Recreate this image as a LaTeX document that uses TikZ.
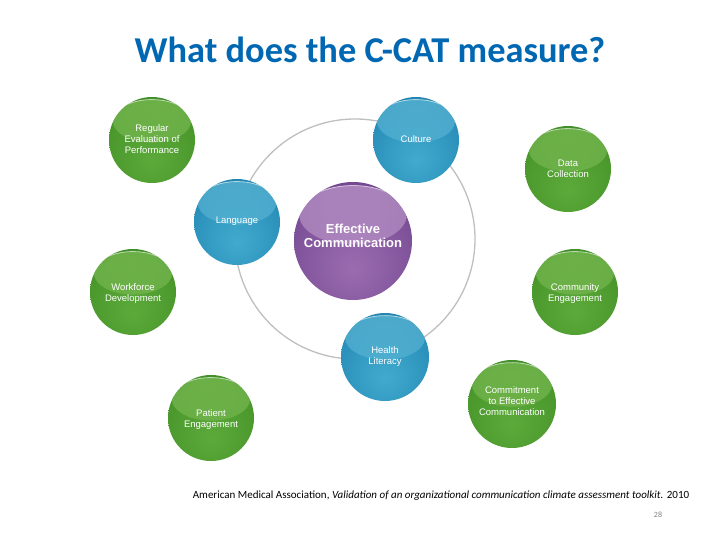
\documentclass[tikz,border=0pt]{standalone}
\usepackage{fontspec}
\usetikzlibrary{fadings}
\setmainfont{Carlito}
\newfontfamily\ballfont{Liberation Sans}
\definecolor{titleblue}{RGB}{0,104,178}
\definecolor{ringgray}{RGB}{190,192,192}
\definecolor{greena}{RGB}{92,170,58}
\definecolor{greenb}{RGB}{74,152,44}
\definecolor{greenc}{RGB}{44,122,32}
\definecolor{greend}{RGB}{22,84,30}
\definecolor{greenlight}{RGB}{128,190,88}
\definecolor{bluea}{RGB}{66,170,206}
\definecolor{blueb}{RGB}{42,144,186}
\definecolor{bluec}{RGB}{20,110,152}
\definecolor{blued}{RGB}{10,72,108}
\definecolor{bluelight}{RGB}{96,186,216}
\definecolor{purplea}{RGB}{156,108,176}
\definecolor{purpleb}{RGB}{124,80,152}
\definecolor{purplec}{RGB}{92,52,128}
\definecolor{purpled}{RGB}{52,24,88}
\definecolor{purplelight}{RGB}{196,160,208}
\pgfdeclareradialshading{greenshade}{\pgfpoint{0bp}{-12bp}}{color(0bp)=(greena); color(28bp)=(greenb); color(46bp)=(greenc); color(62bp)=(greend); color(100bp)=(greend)}
\pgfdeclareradialshading{blueshade}{\pgfpoint{0bp}{-12bp}}{color(0bp)=(bluea); color(28bp)=(blueb); color(46bp)=(bluec); color(62bp)=(blued); color(100bp)=(blued)}
\pgfdeclareradialshading{purpleshade}{\pgfpoint{0bp}{-12bp}}{color(0bp)=(purplea); color(28bp)=(purpleb); color(46bp)=(purplec); color(62bp)=(purpled); color(100bp)=(purpled)}
\tikzset{
  ball/.style n args={3}{circle,inner sep=0pt,minimum size=2*#1 pt,shading=#2,
    path picture={
      \fill[#3,opacity=.45,path fading=south] ([yshift=#1*.44pt]path picture bounding box.center) ellipse ({.91*#1 pt} and {.5*#1 pt});
      \fill[#3,opacity=.4] ([yshift=#1*.44pt]path picture bounding box.center) ellipse ({.91*#1 pt} and {.5*#1 pt});
      \draw[white,opacity=.6,line width=.8pt] ([yshift=#1*.44pt]path picture bounding box.center) ++(150:{.91*#1 pt} and {.5*#1 pt}) arc[start angle=150,end angle=30,x radius=.91*#1 pt,y radius=.5*#1 pt];
    }},
  greenball/.style={ball={#1}{greenshade}{greenlight}},
  blueball/.style={ball={#1}{blueshade}{bluelight}},
  purpleball/.style={ball={#1}{purpleshade}{purplelight}},
  balllabel/.style={text=white,align=center,font=\ballfont\fontsize{9.5}{11}\selectfont}
}
\begin{document}
\begin{tikzpicture}[x=1pt,y=-1pt]
  \useasboundingbox (0,0) rectangle (720,540);
  \fill[white] (0,0) rectangle (720,540);
  \coordinate (ringcentre) at (355,239);
  \draw[ringgray,line width=1.3pt] (ringcentre) circle (120pt);
  \node[greenball=43,label={[balllabel,yshift=1pt]center:Regular\\Evaluation of\\Performance}] (regular) at (152,140) {};
  \node[blueball=43,label={[balllabel,yshift=1pt]center:Culture}] (culture) at (416,140) {};
  \node[greenball=43,label={[balllabel]center:Data\\Collection}] (data) at (568,169) {};
  \node[blueball=43,label={[balllabel,yshift=1pt]center:Language}] (language) at (237,222) {};
  \node[purpleball=59,label={[text=white,align=center,yshift=5pt,font=\ballfont\bfseries\fontsize{13}{14}\selectfont]center:Effective\\Communication}] (effective) at (353,241) {};
  \node[greenball=43,label={[balllabel,yshift=-2pt]center:Workforce\\Development}] (workforce) at (133,292) {};
  \node[greenball=43,label={[balllabel,yshift=-2pt]center:Community\\Engagement}] (community) at (575,292) {};
  \node[blueball=44,label={[balllabel]center:Health\\Literacy}] (health) at (385,357) {};
  \node[greenball=43,label={[balllabel,yshift=-2pt]center:Patient\\Engagement}] (patient) at (211,418) {};
  \node[greenball=44,label={[balllabel,yshift=3pt]center:Commitment\\to Effective\\Communication}] (commitment) at (512,404) {};
  \node[text=titleblue,font=\bfseries\fontsize{36.4}{40}\selectfont] (title) at (370,50) {What does the C-CAT measure?};
  \node[font=\fontsize{11}{13}\selectfont] (citation) at (441,496) {American Medical Association, \textit{Validation of an organizational communication climate assessment toolkit.} 2010};
  \node[text=gray,font=\fontsize{8}{10}\selectfont] (pagenum) at (658,515) {28};
\end{tikzpicture}
\end{document}
